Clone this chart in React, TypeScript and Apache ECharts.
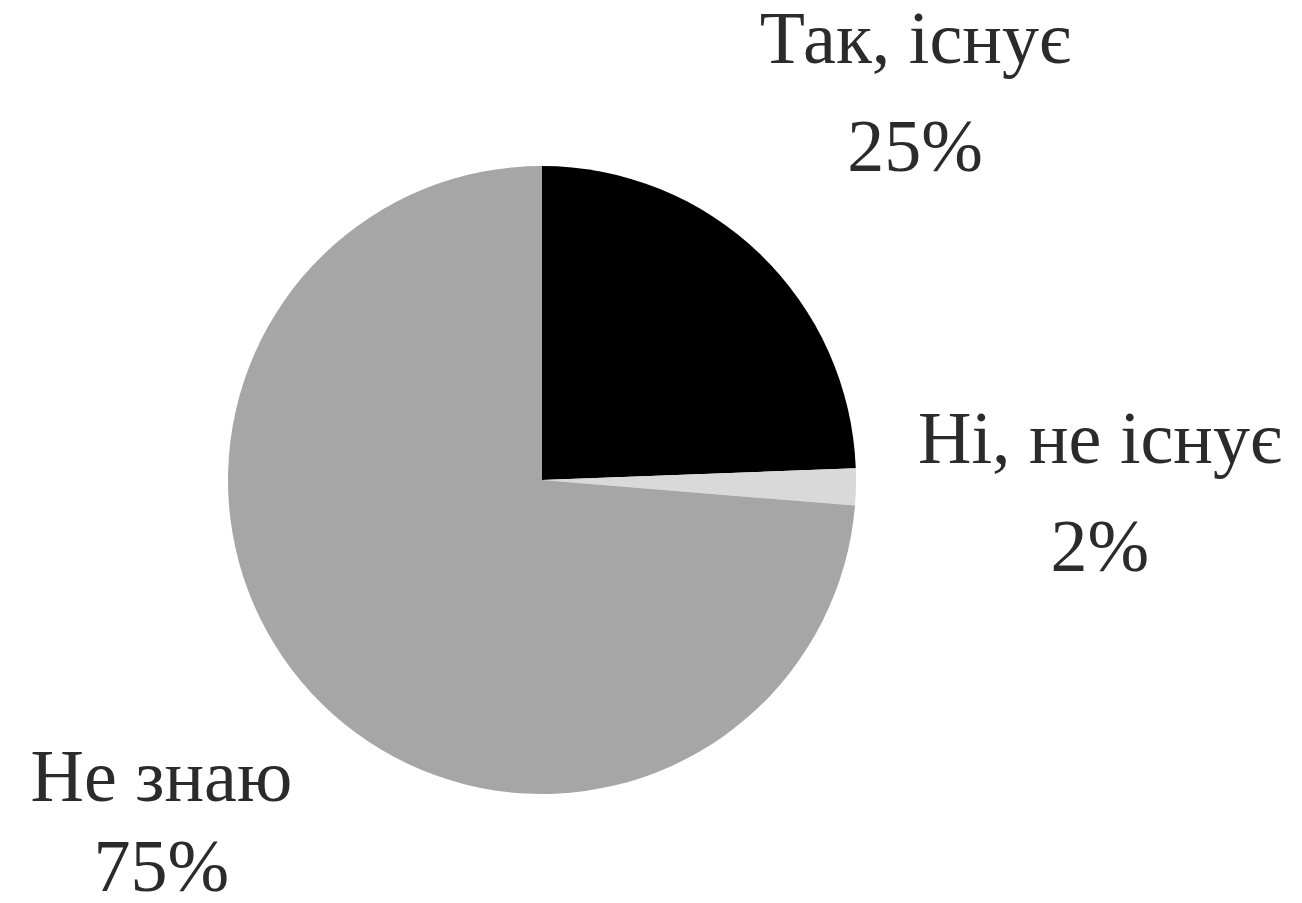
import React, { useEffect, useRef } from "react";
import * as echarts from "echarts";

const categories = ["Так, існує", "Ні, не існує", "Не знаю"];
const values = [24.4, 1.9, 73.7];
const percentLabels = ["25%", "2%", "75%"];
const colors = ["#000000", "#d9d9d9", "#a6a6a6"];

// label fine-tuning (style only): offset and line heights of name / percent lines
const labelTweaks = [
  { offset: [0, 16], nameLH: 76, pctLH: 140 },
  { offset: [20, 0], nameLH: 108, pctLH: 108 },
  { offset: [15, -36], nameLH: 114, pctLH: 66 },
];

const font = {
  color: "#2b2b2b",
  fontFamily: "Liberation Serif",
  fontSize: 74,
  align: "center" as const,
};

export default function App() {
  const ref = useRef<HTMLDivElement>(null);
  useEffect(() => {
    if (!ref.current) return;
    const chart = echarts.init(ref.current, null, { renderer: "svg" });
    const data = categories.map((name, i) => ({
      name,
      value: values[i],
      itemStyle: { color: colors[i] },
    }));
    chart.setOption({
      animation: false,
      backgroundColor: "#ffffff",
      series: [
        {
          type: "pie",
          center: [542, 480],
          radius: [0, 314],
          startAngle: 90,
          clockwise: true,
          silent: true,
          label: { show: false },
          labelLine: { show: false },
          data,
        },
        {
          type: "pie",
          center: [542, 480],
          radius: [0, 1070],
          startAngle: 90,
          clockwise: true,
          silent: true,
          z: 1,
          itemStyle: { color: "rgba(0,0,0,0)" },
          labelLine: { show: false },
          label: {
            show: true,
            position: "inside",
            ...font,
            formatter: (p: any) =>
              `{n|${p.name}}\n{p|${percentLabels[p.dataIndex]}}`,
          },
          data: categories.map((name, i) => ({
            name,
            value: values[i],
            itemStyle: { color: "rgba(0,0,0,0)" },
            label: {
              offset: labelTweaks[i].offset,
              rich: {
                n: { ...font, lineHeight: labelTweaks[i].nameLH },
                p: { ...font, lineHeight: labelTweaks[i].pctLH },
              },
            },
          })),
        },
      ],
    });
    return () => chart.dispose();
  }, []);
  return (
    <div
      ref={ref}
      style={{ position: "fixed", left: 0, top: 0, width: 1302, height: 903 }}
    />
  );
}
